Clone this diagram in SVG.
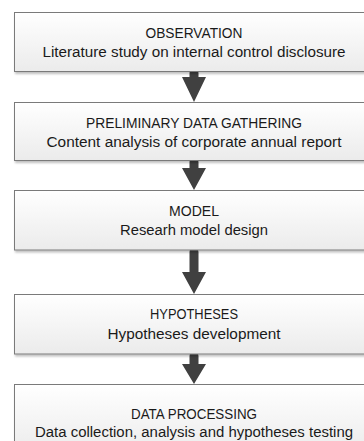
<svg xmlns="http://www.w3.org/2000/svg" width="364" height="441" viewBox="0 0 364 441">
<defs>
<linearGradient id="g" x1="0" y1="0" x2="0" y2="1">
<stop offset="0" stop-color="#ffffff"/>
<stop offset="1" stop-color="#ebebeb"/>
</linearGradient>
<filter id="sh" x="-5%" y="-5%" width="110%" height="120%">
<feGaussianBlur in="SourceAlpha" stdDeviation="1"/>
<feOffset dx="1" dy="2" result="b"/>
<feComponentTransfer><feFuncA type="linear" slope="0.25"/></feComponentTransfer>
<feMerge><feMergeNode/><feMergeNode in="SourceGraphic"/></feMerge>
</filter>
</defs>
<style>
.box{fill:url(#g);stroke:#7a7a7a;stroke-width:1;filter:url(#sh)}
.t{font-family:"Liberation Sans",Arial,sans-serif;font-size:14px;fill:#1a1a1a;text-anchor:middle}
.arr{fill:#404040}
</style>
<rect width="364" height="441" fill="#ffffff"/>
<g id="connectors">
<path class="arr" d="M189.5,73 A4.5,4.5 0 0 1 198.5,73 V77 H206 L194,102 L182,77 H189.5 Z"/>
<path class="arr" d="M189.5,162 A4.5,4.5 0 0 1 198.5,162 V168 H206 L194,190 L182,168 H189.5 Z"/>
<path class="arr" d="M189.5,252 A4.5,4.5 0 0 1 198.5,252 V272 H206 L194,294 L182,272 H189.5 Z"/>
<path class="arr" d="M189.5,356 A4.5,4.5 0 0 1 198.5,356 V364 H206 L194,384 L182,364 H189.5 Z"/>
</g>
<g id="observation">
<rect class="box" x="14.5" y="12.5" width="360" height="59"/>
<text class="t" x="194" y="37.7" textLength="97" lengthAdjust="spacingAndGlyphs">OBSERVATION</text>
<text class="t" x="194" y="57" textLength="303" lengthAdjust="spacingAndGlyphs">Literature study on internal control disclosure</text>
</g>
<g id="preliminary">
<rect class="box" x="14.5" y="102.5" width="360" height="58"/>
<text class="t" x="194" y="128.3" textLength="216" lengthAdjust="spacingAndGlyphs">PRELIMINARY DATA GATHERING</text>
<text class="t" x="194" y="146.7" textLength="295" lengthAdjust="spacingAndGlyphs">Content analysis of corporate annual report</text>
</g>
<g id="model">
<rect class="box" x="14.5" y="190.5" width="360" height="59.5"/>
<text class="t" x="194" y="216" textLength="50" lengthAdjust="spacingAndGlyphs">MODEL</text>
<text class="t" x="194" y="235" textLength="148" lengthAdjust="spacingAndGlyphs">Researh model design</text>
</g>
<g id="hypotheses">
<rect class="box" x="14.5" y="294.5" width="360" height="59.5"/>
<text class="t" x="194" y="319.3" textLength="88" lengthAdjust="spacingAndGlyphs">HYPOTHESES</text>
<text class="t" x="194" y="339.3" textLength="173" lengthAdjust="spacingAndGlyphs">Hypotheses development</text>
</g>
<g id="dataprocessing">
<rect class="box" x="14.5" y="384.5" width="360" height="70"/>
<text class="t" x="194" y="419.3" textLength="126" lengthAdjust="spacingAndGlyphs">DATA PROCESSING</text>
<text class="t" x="194" y="436.7" textLength="318" lengthAdjust="spacingAndGlyphs">Data collection, analysis and hypotheses testing</text>
</g>
</svg>
